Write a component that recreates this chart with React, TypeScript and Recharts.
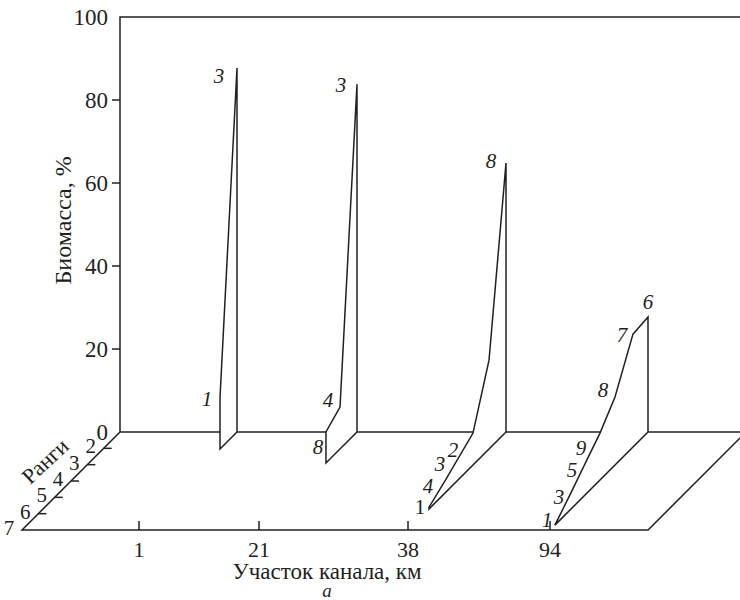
import { ComposedChart, Scatter, XAxis, YAxis, ReferenceLine } from "recharts";

// channel sites (km) and where their back wall sits along the channel axis
const SITES = ["1", "21", "38", "94"];
const SITE_POS = [117, 237, 386, 528];
const RANK_LABELS = ["2", "3", "4", "5", "6", "7"];
const BIOMASS_TICKS = [0, 20, 40, 60, 80, 100];

// per site: depth (rank steps from the back wall) and biomass share, %
const SPECIES_DEPTH = [
  [0, 1.04],
  [0, 1.04, 1.9],
  [0, 1.04, 2.02, 3.7, 4.72],
  [0, 0.92, 2.02, 2.94, 3.86, 4.72, 5.7],
];
const SPECIES_BIOMASS = [
  [87.7, 12.5],
  [83.8, 10.1, 7.5],
  [64.8, 21.4, 7.7, 3.0, 0.4],
  [27.7, 27.2, 16.4, 11.3, 7.5, 3.9, 0],
];

// species numbers written next to the profiles
const LABEL_TEXT = [
  ["3", "1"],
  ["3", "4", "8"],
  ["8", "2", "3", "4", "1"],
  ["6", "7", "8", "9", "5", "3", "1"],
];
const LABEL_DEPTH = [
  [1.1, 1.84],
  [0.98, 1.78, 2.39],
  [0.92, 3.25, 4.04, 4.78, 5.27],
  [0, 1.59, 2.76, 4.1, 4.65, 5.45, 6.18],
];
const LABEL_BIOMASS = [
  [90.1, 15.2],
  [87.5, 14.7, 5.8],
  [68.9, 8.4, 8.2, 5.8, 2.7],
  [31.3, 29.6, 21.0, 12.3, 9.2, 5.8, 3.1],
];
const UPRIGHT = ["2-4"]; // this one is set in roman in the original

const INK = "#231f20";
const FONT = "'Liberation Serif', 'DejaVu Serif', serif";
const W = 746;
const H = 600;
const TOP = 17;
const X_AXIS_H = 70;
const X_MIN = -120;
const X_MAX = 626;
const DEPTH_STEPS = 6;
const STEP_X = 16.33;
const PLOT_H = H - TOP - X_AXIS_H;
const PX_PER_PCT = (PLOT_H - DEPTH_STEPS * STEP_X) / 100;
const STEP_Y = STEP_X / PX_PER_PCT;
const Y_MIN = -DEPTH_STEPS * STEP_Y;

// oblique projection: going one rank forward moves left and down by STEP_X px
const project = (pos: number, depth: number, pct: number) => ({
  x: pos - depth * STEP_X,
  y: pct - depth * STEP_Y,
});

const floor = [
  project(0, 0, 0),
  project(X_MAX, 0, 0),
  project(X_MAX, DEPTH_STEPS, 0),
  project(0, DEPTH_STEPS, 0),
  project(0, 0, 0),
];
const wall = [project(0, 0, 0), project(0, 0, 100), project(X_MAX, 0, 100)];

const slices = SITE_POS.map((pos, i) => {
  const d = SPECIES_DEPTH[i];
  const b = SPECIES_BIOMASS[i];
  return [
    project(pos, 0, 0),
    ...d.map((dd, j) => project(pos, dd, b[j])),
    project(pos, d[d.length - 1], 0),
    project(pos, 0, 0),
  ];
});

const speciesLabels = SITE_POS.flatMap((pos, i) =>
  LABEL_TEXT[i].map((t, j) => ({
    ...project(pos, LABEL_DEPTH[i][j], LABEL_BIOMASS[i][j]),
    text: t,
    italic: !UPRIGHT.includes(`${i}-${j}`),
  }))
);

const yTickLabels = BIOMASS_TICKS.map((v) => ({ x: 0, y: v, text: String(v) }));
const rankLabels = RANK_LABELS.map((t, i) => ({ ...project(0, i + 1, 0), text: t }));
const frontTicks = SITE_POS.map((p) => p - DEPTH_STEPS * STEP_X);

type TextOpts = {
  dx?: number;
  dy?: number;
  size: number;
  anchor?: "start" | "middle" | "end";
  rotate?: number;
  italic?: boolean;
};

const textShape = (o: TextOpts) => (p: any) => {
  const x = p.cx + (o.dx ?? 0);
  const y = p.cy + (o.dy ?? 0);
  const italic = p.payload.italic ?? o.italic;
  return (
    <text
      x={x}
      y={y}
      fill={INK}
      style={{ fontFamily: FONT, fontSize: o.size, fontStyle: italic ? "italic" : "normal" }}
      textAnchor={o.anchor ?? "middle"}
      dominantBaseline="central"
      transform={o.rotate ? `rotate(${o.rotate}, ${x}, ${y})` : undefined}
    >
      {p.payload.text}
    </text>
  );
};

const noDot = () => <g />;
const lineStyle = { stroke: INK, strokeWidth: 1.5 };

const App = () => {
  return (
    <div style={{ position: "absolute", left: 0, top: 0, width: 740, height: 600, overflow: "hidden", background: "#fff" }}>
      <ComposedChart width={W} height={H} margin={{ top: TOP, right: 0, bottom: 0, left: 0 }}>
        <XAxis
          type="number"
          dataKey="x"
          domain={[X_MIN, X_MAX]}
          ticks={frontTicks}
          tickFormatter={(v) => SITES[frontTicks.indexOf(v)] ?? ""}
          height={X_AXIS_H}
          tickLine={false}
          axisLine={false}
          tickMargin={5}
          tick={{ fill: INK, fontSize: 22, style: { fontFamily: FONT } }}
          interval={0}
        />
        <YAxis type="number" dataKey="y" domain={[Y_MIN, 100]} hide />

        <Scatter data={floor} line={{ ...lineStyle, fill: "none" }} shape={noDot} isAnimationActive={false} />
        <Scatter data={wall} line={{ ...lineStyle, fill: "none" }} shape={noDot} isAnimationActive={false} />
        {slices.map((s, i) => (
          <Scatter key={i} data={s} line={{ ...lineStyle, fill: "#fff" }} shape={noDot} isAnimationActive={false} />
        ))}

        {BIOMASS_TICKS.filter((v) => v > 0 && v < 100).map((v) => (
          <ReferenceLine key={`y${v}`} segment={[{ x: -8, y: v }, { x: 0, y: v }]} {...lineStyle} />
        ))}
        {RANK_LABELS.slice(0, 5).map((_, i) => {
          const p = project(0, i + 1, 0);
          return <ReferenceLine key={`r${i}`} segment={[p, { x: p.x + 8, y: p.y }]} {...lineStyle} />;
        })}
        {frontTicks.map((f) => (
          <ReferenceLine key={`x${f}`} segment={[{ x: f, y: Y_MIN }, { x: f, y: Y_MIN + 9 / PX_PER_PCT }]} {...lineStyle} />
        ))}

        <Scatter data={yTickLabels} shape={textShape({ dx: -12, size: 23, anchor: "end" })} isAnimationActive={false} />
        <Scatter data={rankLabels} shape={textShape({ dx: -13, dy: -2, size: 21 })} isAnimationActive={false} />
        <Scatter data={speciesLabels} shape={textShape({ size: 21 })} isAnimationActive={false} />
        <Scatter
          data={[{ x: -57, y: 51, text: "Биомасса, %" }]}
          shape={textShape({ size: 24, rotate: -90 })}
          isAnimationActive={false}
        />
        <Scatter
          data={[{ x: -75, y: -7, text: "Ранги" }]}
          shape={textShape({ size: 22, rotate: -43 })}
          isAnimationActive={false}
        />
        <Scatter
          data={[{ x: 207, y: Y_MIN, text: "Участок канала, км" }]}
          shape={textShape({ dy: 41, size: 23 })}
          isAnimationActive={false}
        />
        <Scatter
          data={[{ x: 207, y: Y_MIN, text: "а", italic: true }]}
          shape={textShape({ dy: 60, size: 19 })}
          isAnimationActive={false}
        />
      </ComposedChart>
    </div>
  );
};

export default App;
